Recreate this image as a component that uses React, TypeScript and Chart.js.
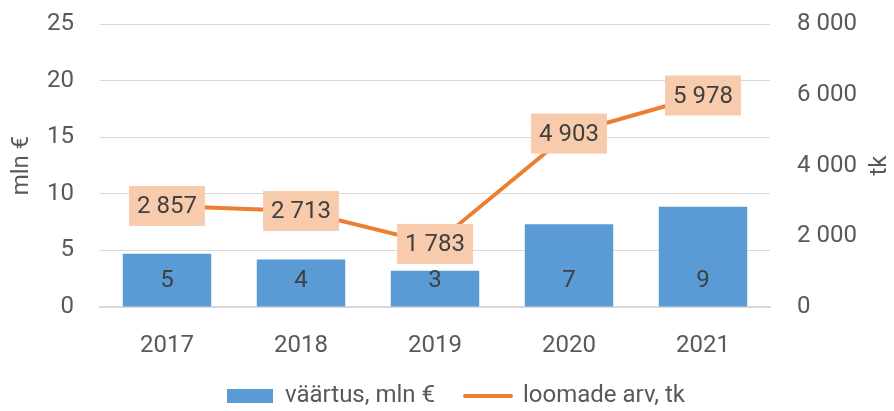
import React, { useEffect, useRef } from "react";
import { Chart, registerables } from "chart.js";

Chart.register(...registerables);

const categories = ["2017", "2018", "2019", "2020", "2021"];
const valueMln = [4.7, 4.2, 3.2, 7.3, 8.85];
const animalCount = [2857, 2713, 1783, 4903, 5978];
const seriesNames = ["väärtus, mln €", "loomade arv, tk"];
const leftTitle = "mln €";
const rightTitle = "tk";

const FONT = "Roboto, 'DejaVu Sans', sans-serif";
const BLUE = "#5b9bd5";
const ORANGE = "#ed7d31";
const PEACH = "#f8cbad";
const LABEL = "#404040";
const AXIS = "#595959";
const GRID = "#d9d9d9";
const LEGEND_PAD = 30;

const fmt = (n: number) =>
  Math.round(n)
    .toString()
    .replace(/\B(?=(\d{3})+(?!\d))/g, " ");

const noPad = (s: any) => {
  s.paddingTop = 0;
  s.paddingBottom = 0;
  s.paddingLeft = 0;
  s.paddingRight = 0;
};

const labelsPlugin = {
  id: "customLabels",
  beforeDraw(chart: any) {
    const l = chart.legend;
    if (!l || l._shifted) return;
    const dy = 396 - (l.top + LEGEND_PAD + 12);
    l.top += dy;
    l.bottom += dy;
    l.left += 9;
    l.right += 9;
    l._shifted = true;
  },
  afterDatasetsDraw(chart: any) {
    const ctx = chart.ctx;
    ctx.save();
    ctx.font = `24px ${FONT}`;
    ctx.textAlign = "center";
    ctx.textBaseline = "middle";
    const barMeta = chart.getDatasetMeta(0);
    barMeta.data.forEach((el: any, i: number) => {
      const { x, base } = el.getProps(["x", "base"], true);
      ctx.fillStyle = LABEL;
      ctx.fillText(fmt(valueMln[i]), x, base - 26);
    });
    const lineMeta = chart.getDatasetMeta(1);
    lineMeta.data.forEach((el: any, i: number) => {
      const t = fmt(animalCount[i]);
      const w = ctx.measureText(t).width + 16;
      const h = 40;
      ctx.fillStyle = PEACH;
      ctx.fillRect(el.x - w / 2, el.y - h / 2, w, h);
      ctx.fillStyle = LABEL;
      ctx.fillText(t, el.x, el.y + 1);
    });
    const { top, bottom } = chart.chartArea;
    const midY = (top + bottom) / 2;
    ctx.fillStyle = AXIS;
    const titles: [number, string][] = [
      [chart.scales.y.left + 22, leftTitle],
      [chart.scales.y1.right - 14, rightTitle],
    ];
    titles.forEach(([x, t]) => {
      ctx.save();
      ctx.translate(x, midY);
      ctx.rotate(-Math.PI / 2);
      ctx.fillText(t, 0, 0);
      ctx.restore();
    });
    ctx.restore();
  },
};

export default function App() {
  const ref = useRef<HTMLCanvasElement | null>(null);
  useEffect(() => {
    document.body.style.margin = "0";
    if (!ref.current) return;
    const tickFont = { family: FONT, size: 24 };
    const chart = new Chart(ref.current, {
      type: "bar",
      data: {
        labels: categories,
        datasets: [
          {
            type: "bar",
            label: seriesNames[0],
            data: valueMln,
            backgroundColor: BLUE,
            borderWidth: 0,
            barPercentage: 0.66,
            categoryPercentage: 1,
            yAxisID: "y",
            order: 2,
          } as any,
          {
            type: "line",
            label: seriesNames[1],
            data: animalCount,
            borderColor: ORANGE,
            backgroundColor: ORANGE,
            borderWidth: 4,
            pointRadius: 0,
            tension: 0,
            yAxisID: "y1",
            order: 1,
          } as any,
        ],
      },
      options: {
        animation: false,
        responsive: true,
        maintainAspectRatio: false,
        layout: { padding: { top: 24, bottom: -20, left: 0, right: 0 } },
        plugins: {
          tooltip: { enabled: false },
          legend: {
            position: "bottom",
            labels: {
              font: tickFont,
              color: AXIS,
              usePointStyle: true,
              pointStyleWidth: 46,
              boxHeight: 14,
              padding: LEGEND_PAD,
              generateLabels: (c: any) => {
                const items = (Chart.defaults.plugins.legend.labels as any).generateLabels(c);
                items.forEach((it: any) => {
                  if (it.datasetIndex === 0) {
                    it.pointStyle = "rect";
                    it.lineWidth = 0;
                    it.fillStyle = BLUE;
                  } else {
                    it.pointStyle = "line";
                    it.lineWidth = 4;
                    it.strokeStyle = ORANGE;
                    it.lineCap = "round";
                  }
                });
                return items.sort((a: any, b: any) => a.datasetIndex - b.datasetIndex);
              },
            },
          },
        },
        scales: {
          x: {
            grid: { display: false, drawTicks: false },
            border: { display: true, color: GRID, width: 2 },
            ticks: { font: tickFont, color: AXIS, padding: 25 },
            afterFit: (s: any) => {
              s.height = 60;
              noPad(s);
            },
          },
          y: {
            position: "left",
            min: 0,
            max: 25,
            ticks: { stepSize: 5, font: tickFont, color: AXIS, padding: 26 },
            grid: { color: GRID, drawTicks: false, lineWidth: 1 },
            border: { display: false },
            afterFit: (s: any) => {
              s.width = 100;
              noPad(s);
            },
          },
          y1: {
            position: "right",
            min: 0,
            max: 8000,
            ticks: {
              stepSize: 2000,
              font: tickFont,
              color: AXIS,
              padding: 27,
              callback: (v: any) => fmt(Number(v)),
            },
            grid: { display: false, drawTicks: false },
            border: { display: false },
            afterFit: (s: any) => {
              s.width = 124;
              noPad(s);
            },
          },
        },
      } as any,
      plugins: [labelsPlugin],
    });
    return () => chart.destroy();
  }, []);
  return (
    <div style={{ width: 894, height: 411, position: "relative" }}>
      <canvas ref={ref} />
    </div>
  );
}
